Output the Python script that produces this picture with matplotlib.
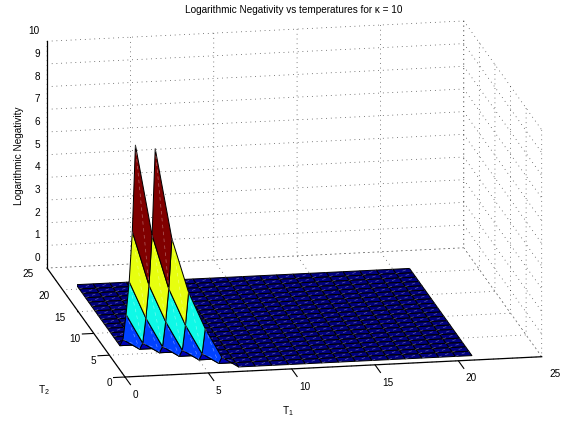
import numpy as np
import matplotlib
matplotlib.use("Agg")
import matplotlib.pyplot as plt
from matplotlib.colors import Normalize
from mpl_toolkits.mplot3d import proj3d
from mpl_toolkits.mplot3d.art3d import Poly3DCollection, Line3DCollection

plt.rcParams['font.family'] = ['Liberation Sans', 'DejaVu Sans']
plt.rcParams['mathtext.default'] = 'regular'

# data
t1_values = list(range(1, 22))
t2_values = list(range(1, 22))
ridge_sums = [3, 4, 5, 6, 7]                 # T1 + T2 along each diagonal of the ridge
ridge_heights = [9.8, 5.8, 3.4, 1.76, 0.46]  # log-negativity along those diagonals
undefined_nodes = [(1, 1)]                   # no surface cell there
xy_ticks = [0, 5, 10, 15, 20, 25]
z_ticks = list(range(0, 11))
title = "Logarithmic Negativity vs temperatures for \u03ba = 10"
x_label = "T$_1$"
y_label = "T$_2$"
z_label = "Logarithmic Negativity"

W, H = 566, 423
FS = 7.2
fig = plt.figure(figsize=(W / 100, H / 100), dpi=100, facecolor='white')
ax = fig.add_axes([0, 0, 1, 1], projection='3d', computed_zorder=False)
ax.patch.set_alpha(0)

lookup = dict(zip(ridge_sums, ridge_heights))
height = {(x, y): lookup.get(x + y, 0.0) for x in t1_values for y in t2_values}
cmap = matplotlib.colormaps['jet']
norm = Normalize(vmin=0, vmax=9.2, clip=True)

flat_polys, flat_cols, flat_seams = [], [], []
ridge_polys, ridge_cols, ridge_seams = [], [], []
for x0, x1 in zip(t1_values[:-1], t1_values[1:]):
    for y0, y1 in zip(t2_values[:-1], t2_values[1:]):
        if (x0, y0) in undefined_nodes:
            continue
        a, b, c, d = [(px, py, height[(px, py)]) for px, py in
                      [(x0, y0), (x1, y0), (x1, y1), (x0, y1)]]
        col = cmap(norm(height[(x0, y0)]))
        if x0 + y0 in lookup:
            ridge_polys.append([a, b, c, d]); ridge_cols.append(col); ridge_seams.append([a, c])
        else:
            flat_polys.append([a, b, c, d]); flat_cols.append(col); flat_seams.append([a, c])

for polys, cols, seams, zo in [(flat_polys, flat_cols, flat_seams, 2),
                               (ridge_polys, ridge_cols, ridge_seams, 4)]:
    pc = Poly3DCollection(polys, facecolors=cols, edgecolors='black', linewidths=0.72, zorder=zo)
    ax.add_collection3d(pc, autolim=False)
    lc = Line3DCollection(seams, colors=[(1, 1, 1, 0.38)], linewidths=0.5,
                          linestyles=[(0, (5, 5))], zorder=zo + 1)
    ax.add_collection3d(lc, autolim=False)

ax.set_xlim(0, 25, view_margin=0)
ax.set_ylim(0, 25, view_margin=0)
ax.set_zlim(0, 10, view_margin=0)
ax.set_xticks(xy_ticks); ax.set_yticks(xy_ticks); ax.set_zticks(z_ticks)
ax.view_init(elev=15.12, azim=-100.57)
ax.set_proj_type('ortho')

for axis in (ax.xaxis, ax.yaxis, ax.zaxis):
    axis.set_pane_color((1, 1, 1, 0))
    axis.pane.set_edgecolor((1, 1, 1, 0))
    axis.line.set_color('black')
    axis.line.set_linewidth(0.9)
    axis._axinfo['grid'].update(color='0.2', linewidth=0.55, linestyle=(0, (1, 5.2)))
    axis._axinfo['tick'].update(inward_factor=0.0, outward_factor=0.0)
    axis.set_major_formatter(matplotlib.ticker.NullFormatter())

# tick marks follow the box edges, as in the reference
tick_segs = []
for v in xy_ticks:
    tick_segs.append([(v, 0, 0), (v, -1.85, 0)])
    tick_segs.append([(0, v, 0), (-0.72, v, 0)])
for v in z_ticks:
    tick_segs.append([(0, 25, v), (0, 26.9, v)])
ax.add_collection3d(Line3DCollection(tick_segs, colors='black', linewidths=0.8, zorder=1), autolim=False)

# fit the box to the reference's pixel geometry
target_origin = np.array([125.0, H - 377.0])
target_x_end = np.array([541.7, H - 356.7])
zoom = 1.0
ax.set_box_aspect((424, 425, 235), zoom=zoom)
pos = [0.0, 0.0, 1.0, 1.0]
def project(x, y, z):
    ax.apply_aspect()
    X, Y, _ = proj3d.proj_transform(x, y, z, ax.get_proj())
    return ax.transData.transform((X, Y))
for _ in range(3):
    p0, p1 = project(0, 0, 0), project(25, 0, 0)
    zoom *= np.linalg.norm(target_x_end - target_origin) / np.linalg.norm(p1 - p0)
    ax.set_box_aspect((424, 425, 235), zoom=zoom)
    p0 = project(0, 0, 0)
    shift = target_origin - p0
    pos[0] += shift[0] / W
    pos[1] += shift[1] / H
    ax.set_position(pos)

# tick labels sit at projected data positions
def tick_text(x, y, z, s, ha):
    p = project(x, y, z)
    fig.text(p[0] / W, p[1] / H, s, fontsize=FS, ha=ha, va='center')
for v in xy_ticks:
    tick_text(v - 0.3, -4.0, 0, str(v), 'left')
    tick_text(-1.0, v - 1.19, 0, str(v), 'right')
for v in z_ticks:
    tick_text(0, 27.3, v, str(v), 'right')

fig.text(294 / W, 1 - 10 / H, title, fontsize=FS, ha='center', va='center')
fig.text(19 / W, 1 - 156 / H, z_label, fontsize=FS, rotation=90, ha='center', va='center')
fig.text(288 / W, 1 - 411 / H, x_label, fontsize=FS, ha='center', va='center')
fig.text(44 / W, 1 - 390 / H, y_label, fontsize=FS, ha='center', va='center')

fig.savefig('out.png', dpi=100)
